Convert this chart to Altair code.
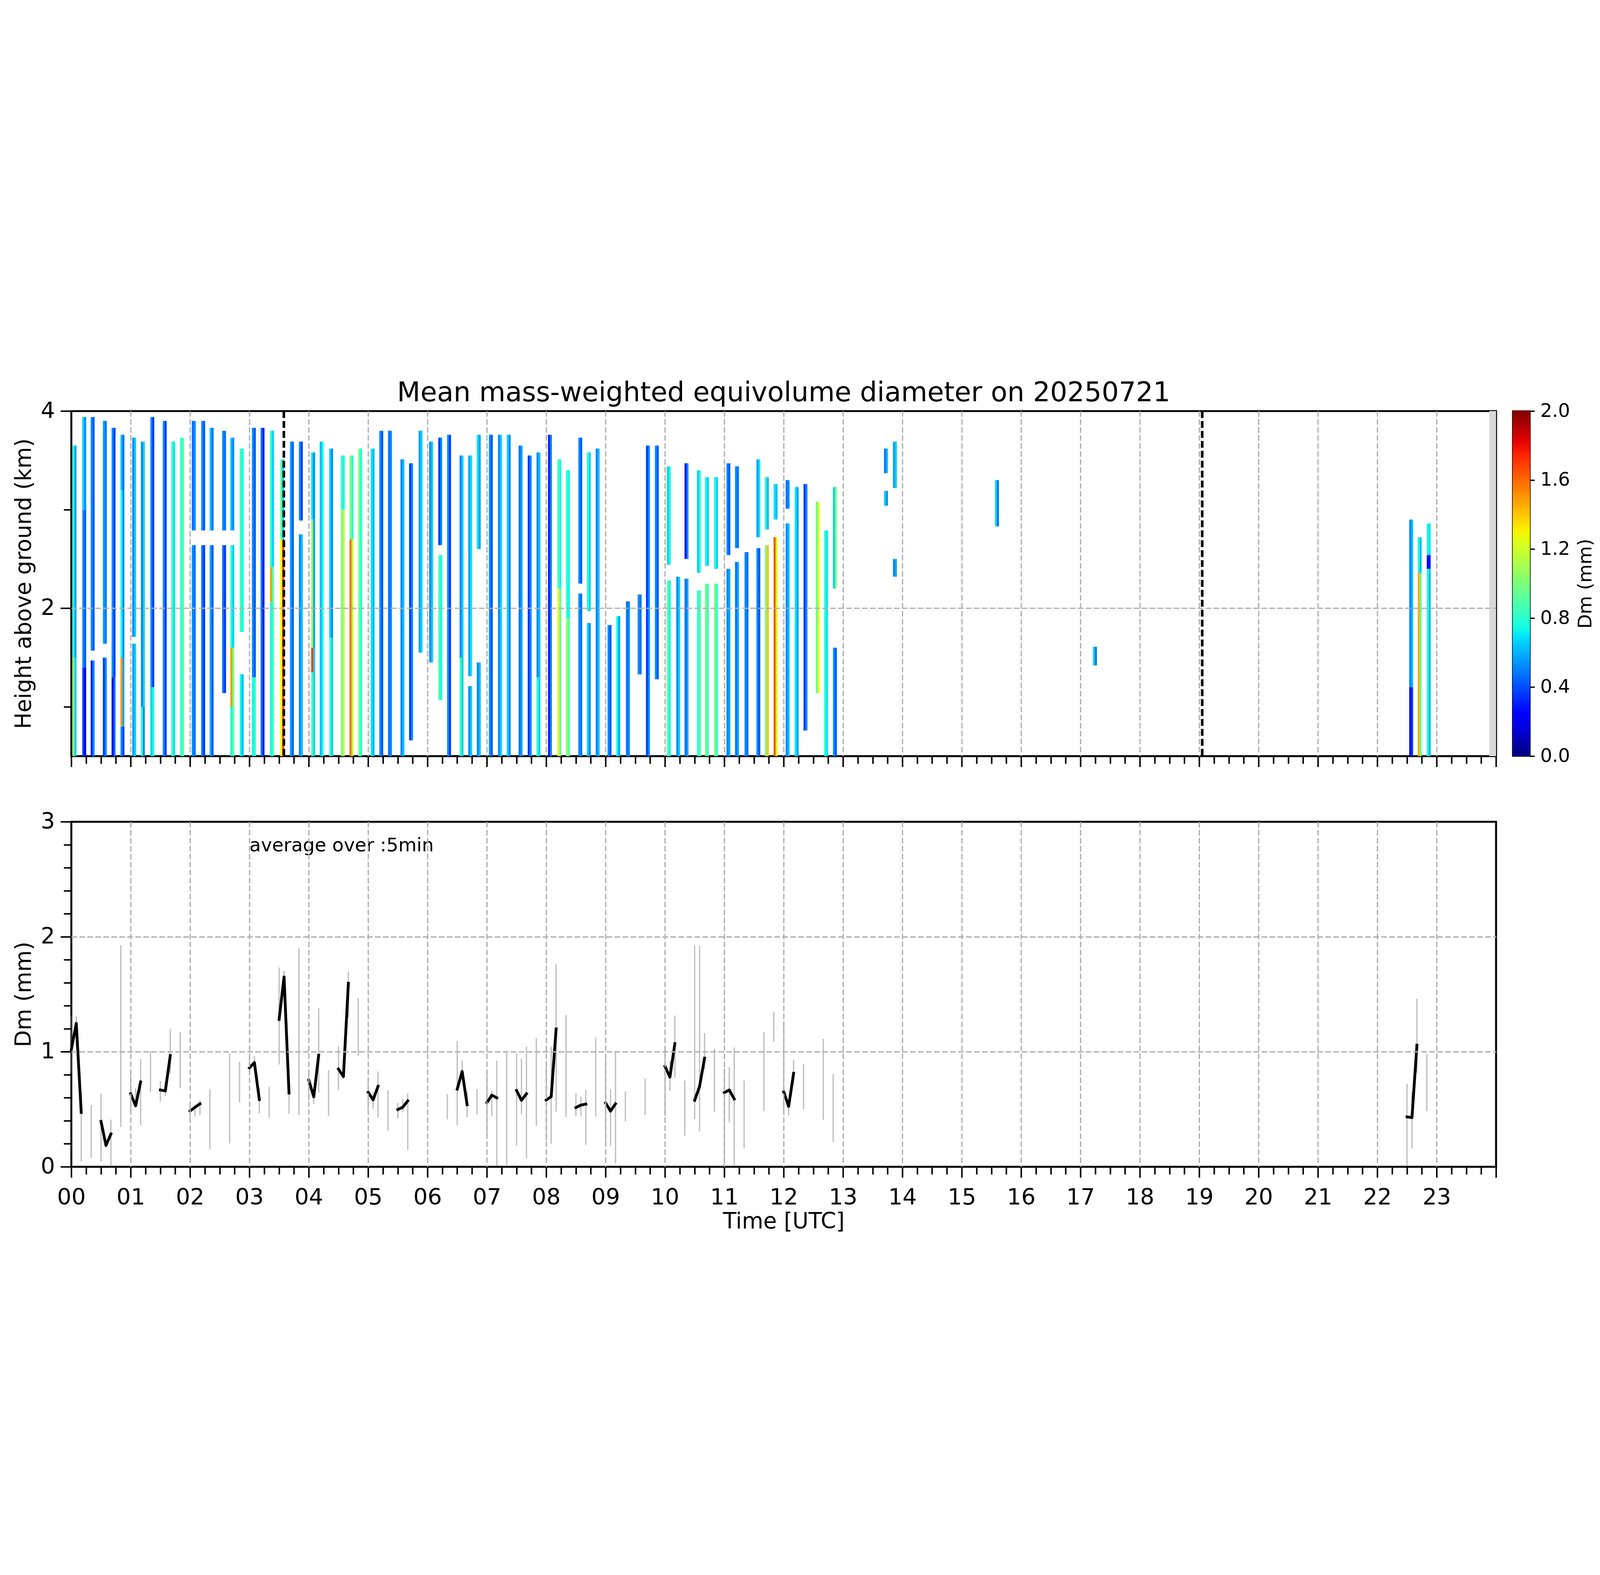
import numpy as np
import pandas as pd
import altair as alt

# ---------------- top panel: radar Dm profiles (stripe start hour, segments) ----------------
stripe_t = [0.021, 0.184, 0.326, 0.531, 0.678, 0.828,
            1.025, 1.172, 1.331, 1.54, 1.682, 1.833,
            2.029, 2.188, 2.33, 2.54, 2.678, 2.837,
            3.042, 3.188, 3.347, 3.52, 3.682, 3.833,
            4.04, 4.184, 4.343, 4.54, 4.686, 4.833,
            5.042, 5.188, 5.335, 5.544, 5.69, 5.85,
            6.028, 6.181, 6.33, 6.54, 6.686, 6.83,
            7.034, 7.187, 7.335, 7.535, 7.688, 7.836,
            8.03, 8.187, 8.333, 8.54, 8.684, 8.833,
            9.033, 9.18, 9.343, 9.54, 9.68, 9.83,
            10.033, 10.19, 10.33, 10.54, 10.674, 10.826,
            11.035, 11.18, 11.34, 11.54, 11.684, 11.83,
            12.033, 12.186, 12.334, 12.54, 12.68, 12.83,
            13.69, 13.84, 15.56, 17.21,
            22.537, 22.68, 22.833]

# (bottom km, top km, Dm left half, Dm right half)
stripe_segs = [
    [(0.5, 1.5, 1.0, 0.66), (1.5, 3.65, 0.78, 0.57)],
    [(0.5, 1.4, 0.36, 0.2), (1.4, 3.0, 0.52, 0.42), (3.0, 3.94, 0.66, 0.52)],
    [(0.5, 1.47, 0.3, 0.52), (1.57, 3.94, 0.52, 0.42)],
    [(0.5, 1.5, 0.36, 0.52), (1.64, 3.9, 0.57, 0.47)],
    [(0.5, 1.3, 0.2, 0.47), (1.3, 3.83, 0.52, 0.36)],
    [(0.5, 0.8, 0.52, 0.36), (0.8, 1.5, 1.5, 0.57), (1.5, 3.2, 0.74, 0.52), (3.2, 3.76, 0.62, 0.47)],
    [(0.5, 1.64, 0.57, 0.66), (1.71, 3.73, 0.52, 0.66)],
    [(0.5, 1.0, 0.78, 0.52), (1.0, 3.69, 0.52, 0.66)],
    [(0.5, 1.2, 0.66, 0.78), (1.2, 3.94, 0.52, 0.36)],
    [(0.5, 3.9, 0.52, 0.36)],
    [(0.5, 3.69, 0.85, 0.7)],
    [(0.5, 3.73, 0.8, 0.9)],
    [(0.5, 2.64, 0.52, 0.47), (2.79, 3.9, 0.47, 0.52)],
    [(0.5, 2.64, 0.47, 0.36), (2.79, 3.9, 0.52, 0.42)],
    [(0.5, 2.64, 0.57, 0.42), (2.79, 3.83, 0.62, 0.47)],
    [(1.14, 2.64, 0.47, 0.36), (2.79, 3.8, 0.52, 0.47)],
    [(0.5, 1.0, 0.74, 0.9), (1.0, 1.6, 1.5, 1.0), (1.6, 2.64, 0.8, 0.66), (2.79, 3.73, 0.62, 0.52)],
    [(0.5, 1.33, 0.74, 0.62), (1.76, 3.62, 0.85, 0.74)],
    [(0.5, 1.3, 0.74, 0.8), (1.3, 3.83, 0.52, 0.42)],
    [(0.5, 3.83, 0.47, 0.3)],
    [(0.5, 2.06, 0.74, 0.85), (2.06, 2.42, 1.5, 0.9), (2.42, 3.8, 0.78, 0.66)],
    [(0.5, 2.7, 1.3, 1.7), (2.7, 3.51, 0.9, 0.66)],
    [(0.5, 3.69, 0.57, 0.42)],
    [(0.5, 2.75, 0.52, 0.62), (2.89, 3.69, 0.52, 0.36)],
    [(0.5, 1.35, 0.9, 0.66), (1.35, 1.6, 1.7, 0.66), (1.6, 2.9, 1.1, 0.57), (2.9, 3.58, 0.7, 0.52)],
    [(0.5, 3.69, 0.62, 0.78)],
    [(0.5, 1.7, 0.85, 0.66), (1.7, 3.62, 0.66, 0.52)],
    [(0.5, 3.0, 1.0, 1.15), (3.0, 3.55, 0.8, 0.74)],
    [(0.5, 2.7, 1.6, 1.2), (2.7, 3.55, 1.0, 0.78)],
    [(0.5, 3.62, 1.0, 0.78)],
    [(0.5, 3.62, 0.7, 0.62)],
    [(0.5, 3.8, 0.52, 0.42)],
    [(0.5, 3.8, 0.47, 0.52)],
    [(0.5, 3.51, 0.52, 0.62)],
    [(0.66, 3.47, 0.36, 0.52)],
    [(1.55, 3.8, 0.57, 0.66)],
    [(1.45, 3.69, 0.52, 0.66)],
    [(1.07, 2.54, 0.9, 0.74), (2.64, 3.73, 0.36, 0.52)],
    [(0.5, 3.76, 0.52, 0.36)],
    [(0.5, 1.5, 0.85, 0.66), (1.5, 3.55, 0.52, 0.66)],
    [(0.5, 1.21, 0.52, 0.66), (1.31, 3.55, 0.57, 0.7)],
    [(0.5, 1.45, 0.52, 0.62), (2.6, 3.76, 0.7, 0.57)],
    [(0.5, 3.76, 0.52, 0.42)],
    [(0.5, 3.76, 0.52, 0.66)],
    [(0.5, 3.76, 0.66, 0.52)],
    [(0.5, 3.65, 0.47, 0.57)],
    [(0.5, 3.55, 0.36, 0.52)],
    [(0.5, 1.3, 0.8, 0.66), (1.3, 3.58, 0.52, 0.62)],
    [(0.5, 3.76, 0.3, 0.52)],
    [(0.5, 2.2, 1.3, 0.95), (2.2, 3.51, 0.85, 0.74)],
    [(0.5, 1.9, 1.05, 0.9), (1.9, 3.4, 0.8, 0.74)],
    [(0.5, 2.15, 0.52, 0.47), (2.25, 3.73, 0.52, 0.42)],
    [(0.5, 1.85, 0.66, 0.52), (1.97, 3.58, 0.8, 0.66)],
    [(0.5, 3.62, 0.52, 0.62)],
    [(0.5, 1.83, 0.52, 0.42)],
    [(0.5, 1.92, 0.74, 0.57)],
    [(0.5, 2.07, 0.47, 0.52)],
    [(1.33, 2.14, 0.52, 0.47)],
    [(0.5, 3.65, 0.36, 0.52)],
    [(1.28, 3.65, 0.52, 0.42)],
    [(0.5, 2.28, 0.9, 0.74), (2.44, 3.44, 0.66, 0.78)],
    [(0.5, 2.32, 0.52, 0.66)],
    [(0.5, 2.3, 0.47, 0.57), (2.5, 3.47, 0.25, 0.52)],
    [(0.5, 2.18, 0.78, 0.9), (2.36, 3.4, 0.66, 0.8)],
    [(0.5, 2.25, 0.95, 0.85), (2.43, 3.33, 0.74, 0.66)],
    [(0.5, 2.25, 1.0, 0.8), (2.4, 3.33, 0.78, 0.66)],
    [(0.5, 2.4, 0.52, 0.57), (2.54, 3.47, 0.52, 0.42)],
    [(0.5, 2.47, 0.47, 0.57), (2.61, 3.44, 0.52, 0.47)],
    [(0.5, 2.57, 0.52, 0.47)],
    [(0.5, 2.61, 0.52, 0.42), (2.72, 3.51, 0.57, 0.7)],
    [(0.5, 2.64, 1.0, 1.4), (2.8, 3.33, 0.74, 0.62)],
    [(0.5, 2.72, 1.65, 1.25), (2.9, 3.26, 0.7, 0.62)],
    [(0.5, 2.86, 0.52, 0.62), (3.01, 3.3, 0.47, 0.52)],
    [(0.5, 3.23, 0.7, 0.57)],
    [(0.76, 3.26, 0.36, 0.52)],
    [(1.14, 3.08, 0.95, 1.3)],
    [(0.5, 2.79, 0.8, 0.7)],
    [(0.5, 1.6, 0.52, 0.42), (2.2, 3.23, 0.66, 1.0)],
    [(3.37, 3.62, 0.47, 0.62), (3.04, 3.19, 0.66, 0.52)],
    [(3.22, 3.69, 0.57, 0.66), (2.32, 2.5, 0.52, 0.57)],
    [(2.83, 3.3, 0.66, 0.47)],
    [(1.42, 1.61, 0.66, 0.47)],
    [(0.5, 1.2, 0.2, 0.36), (1.2, 2.9, 0.52, 0.62)],
    [(0.5, 2.36, 1.45, 0.95), (2.36, 2.72, 0.78, 0.62)],
    [(0.5, 2.4, 0.78, 0.62), (2.4, 2.54, 0.25, 0.3), (2.54, 2.86, 0.74, 0.7)],
]

marker_t = [3.58, 19.05]          # dashed black markers (h)
nodata_t0 = [23.885]              # grey no-data strip (h)
nodata_t1 = [24.0]

# ---------------- bottom panel: 5-min averages (minutes, mean, min, max) ----------------
avg_min = [0, 5, 10, 20, 30, 35, 40, 50, 60, 65, 70, 80, 90, 95, 100, 110,
           120, 125, 130, 140, 160, 170, 180, 185, 190, 200, 210, 215, 220, 230,
           240, 245, 250, 260, 270, 275, 280, 290, 300, 305, 310, 320, 330, 335, 340,
           380, 390, 395, 400, 410, 420, 425, 430, 440, 450, 455, 460, 470,
           480, 485, 490, 500, 510, 515, 520, 530, 540, 545, 550, 560, 580,
           600, 605, 610, 620, 630, 635, 640, 650, 660, 665, 670, 680, 700, 710,
           720, 725, 730, 740, 760, 770, 1350, 1355, 1360, 1370]
avg_mean = [1.02, 1.247, 0.473, None, 0.395, 0.186, 0.286, None, 0.635, 0.53, 0.738, None,
            0.668, 0.66, 0.967, None,
            0.485, 0.518, 0.548, None, None, None, 0.86, 0.907, 0.585, None, 1.281, 1.651, 0.641, None,
            0.754, 0.608, 0.97, None, 0.85, 0.784, 1.596, None, 0.648, 0.582, 0.70, None,
            0.498, 0.518, 0.573,
            None, 0.675, 0.829, 0.54, None, 0.558, 0.623, 0.60, None, 0.663, 0.578, 0.635, None,
            0.582, 0.61, 1.199, None, 0.515, 0.537, 0.545, None, 0.555, 0.484, 0.548, None, None,
            0.873, 0.78, 1.072, None, 0.578, 0.70, 0.945, None, 0.645, 0.668, 0.59, None, None, None,
            0.653, 0.525, 0.813, None, None, None, 0.434, 0.428, 1.057, None]
avg_lo = [0.82, 1.05, 0.046, 0.076, 0.046, 0.17, 0.01, 0.346, 0.488, 0.518, 0.36, 0.648,
          0.566, 0.615, 0.813, 0.683,
          0.395, 0.44, 0.45, 0.154, 0.204, 0.56, 0.795, 0.877, 0.466, 0.424, 0.889, 1.626, 0.461, 0.448,
          0.578, 0.545, 0.645, 0.44, 0.668, 0.765, 1.296, 0.964, 0.48, 0.506, 0.428, 0.313,
          0.42, 0.473, 0.147,
          0.413, 0.36, 0.787, 0.433, 0.454, 0.278, 0.443, 0.01, 0.016, 0.186, 0.455, 0.072, 0.356,
          0.229, 0.2, 0.48, 0.431, 0.44, 0.439, 0.19, 0.436, 0.214, 0.181, 0.03, 0.395, 0.45,
          0.443, 0.66, 0.775, 0.271, 0.416, 0.308, 0.847, 0.478, 0.01, 0.386, 0.01, 0.162, 0.485, 1.087,
          0.466, 0.443, 0.713, 0.5, 0.41, 0.216, 0.01, 0.159, 0.817, 0.485]
avg_hi = [1.31, 1.31, 0.638, 0.536, 0.635, 0.22, 0.41, 1.928, 0.795, 0.683, 0.937, 1.004,
          0.747, 0.735, 1.2, 1.172,
          0.57, 0.53, 0.58, 0.675, 0.988, 0.912, 0.945, 0.963, 0.683, 0.695, 1.733, 1.705, 0.65, 1.903,
          0.817, 0.653, 1.379, 0.837, 1.046, 0.937, 1.696, 1.467, 0.772, 0.645, 0.828, 0.665,
          0.555, 0.585, 0.642,
          0.633, 1.094, 0.922, 0.653, 0.675, 0.802, 0.66, 0.922, 0.99, 0.985, 0.942, 1.045, 1.12,
          0.922, 1.046, 1.76, 1.319, 0.642, 0.611, 0.668, 1.124, 0.982, 0.672, 1.0, 0.657, 0.768,
          1.037, 0.922, 1.316, 0.75, 1.925, 1.922, 1.162, 1.027, 0.859, 0.865, 1.037, 0.75, 1.172, 1.346,
          1.254, 0.548, 0.925, 0.895, 1.112, 0.805, 0.723, 0.653, 1.461, 0.979]

TITLE = "Mean mass-weighted equivolume diameter on 20250721"
NOTE = "average over :5min"

# ---------------- styling constants ----------------
FONT = "DejaVu Sans"
W = 0.066            # stripe duration (h)
PW, PH = 6600, 1598
TICK_F, TITLE_F, SMALL_F = 104, 102, 87
GRID = "#b0b0b0"


def jet(x):
    r = np.interp(x, [0, 0.35, 0.66, 0.89, 1], [0, 0, 1, 1, 0.5])
    g = np.interp(x, [0, 0.125, 0.375, 0.64, 0.91, 1], [0, 0, 1, 1, 0, 0])
    b = np.interp(x, [0, 0.11, 0.34, 0.65, 1], [0.5, 1, 1, 0, 0])
    return "#%02x%02x%02x" % (int(round(r * 255)), int(round(g * 255)), int(round(b * 255)))


stops = np.linspace(0, 1, 33)
cscale = alt.Scale(domain=[float(s * 2) for s in stops], range=[jet(s) for s in stops],
                   interpolate="rgb", clamp=True)

# heat table
rows = []
for t, segs in zip(stripe_t, stripe_segs):
    for (y0, y1, vl, vr) in segs:
        rows.append(dict(x0=t, x1=t + W / 2 + 0.004, y0=y0, y1=y1, v=vl))
        rows.append(dict(x0=t + W / 2, x1=t + W, y0=y0, y1=y1, v=vr))
heat_df = pd.DataFrame(rows)

xs_top = alt.Scale(domain=[0, 24], nice=False, zero=False)
ys_top = alt.Scale(domain=[0.5, 4], nice=False, zero=False)

quarter = [i * 0.25 for i in range(97)]
is_int = "abs(datum.value - round(datum.value)) < 0.001"
inner_hour = is_int + " && datum.value > 0.5 && datum.value < 23.5"
GRID_KW = dict(grid=True, gridColor=GRID, gridWidth=6, gridDash=[26, 11])

x_axis_top = alt.Axis(values=quarter, labels=False, title=None, domain=False, zindex=1,
                      tickColor="black", tickWidth=7,
                      tickSize={"condition": {"test": is_int, "value": 50}, "value": 35},
                      gridOpacity={"condition": {"test": inner_hour, "value": 1}, "value": 0},
                      **GRID_KW)
y_axis_top = alt.Axis(values=[1, 2, 3, 4], title="Height above ground (km)", domain=False, zindex=1,
                      labelExpr="datum.value % 2 === 0 ? format(datum.value, 'd') : ''",
                      labelFontSize=TICK_F, labelPadding=26, labelFlush=False, labelOverlap=False,
                      titleFontSize=TITLE_F, titleFontWeight="normal", titlePadding=25,
                      tickColor="black", tickWidth=7,
                      tickSize={"condition": {"test": "datum.value % 2 === 0", "value": 50}, "value": 35},
                      gridOpacity={"condition": {"test": "datum.value === 2", "value": 1}, "value": 0},
                      **GRID_KW)

heat = alt.Chart(heat_df).mark_rect(strokeWidth=0).encode(
    x=alt.X("x0:Q", scale=xs_top, axis=x_axis_top),
    x2="x1:Q",
    y=alt.Y("y0:Q", scale=ys_top, axis=y_axis_top),
    y2="y1:Q",
    color=alt.Color("v:Q", scale=cscale, legend=None),
)

nodata_df = pd.DataFrame({"a": nodata_t0, "b": nodata_t1, "lo": [0.5], "hi": [4.0]})
nodata = alt.Chart(nodata_df).mark_rect(color="#d9d9d9").encode(
    x="a:Q", x2="b:Q", y="lo:Q", y2="hi:Q")

mark_df = pd.DataFrame({"t": marker_t})
markers = alt.Chart(mark_df).mark_rule(color="black", strokeWidth=12, strokeDash=[32, 14]).encode(
    x="t:Q")

top = alt.layer(heat, nodata, markers).properties(
    width=PW, height=PH,
    title=alt.TitleParams(TITLE, fontSize=125, fontWeight="normal", anchor="middle",
                          frame="group", baseline="alphabetic", offset=-132, font=FONT, color="black"),
)

# colorbar
edges = np.linspace(0, 2, 201)
cb_df = pd.DataFrame({"lo": edges[:-1], "hi": edges[1:] + 0.004, "v": (edges[:-1] + edges[1:]) / 2})
cbar = alt.Chart(cb_df).mark_rect(strokeWidth=0).encode(
    x=alt.X(datum=0, scale=alt.Scale(domain=[0, 1]), axis=None),
    x2=alt.X2(datum=1),
    y=alt.Y("lo:Q", scale=alt.Scale(domain=[0, 2], nice=False, zero=False),
            axis=alt.Axis(orient="right", values=[0, 0.4, 0.8, 1.2, 1.6, 2.0], format=".1f",
                          title="Dm (mm)", titleAngle=270, titleBaseline="top",
                          titleFontSize=SMALL_F, titleFontWeight="normal", titlePadding=30,
                          labelFontSize=SMALL_F, labelPadding=25, labelFlush=False,
                          tickSize=22, tickWidth=6, tickColor="black",
                          domain=False, grid=False)),
    y2="hi:Q",
    color=alt.Color("v:Q", scale=cscale, legend=None),
).properties(width=80, height=PH, view=alt.ViewBackground(stroke="black", strokeWidth=6))

# ---------------- bottom panel ----------------
bdf = pd.DataFrame({"m": avg_min, "mean": avg_mean, "lo": avg_lo, "hi": avg_hi})
bdf["t"] = bdf["m"] / 60.0
bdf["seg"] = (bdf["m"].diff().fillna(99) != 5).cumsum()
bdf["n"] = bdf.groupby("seg")["m"].transform("count")
multi = bdf[bdf["n"] > 1].copy()
single = bdf[bdf["n"] == 1].copy()

xs_b = alt.Scale(domain=[0, 24], nice=False, zero=False)
ys_b = alt.Scale(domain=[0, 3], nice=False, zero=False)
ylab_expr = "abs(datum.value - round(datum.value)) < 0.001 ? format(datum.value, 'd') : ''"

x_axis_b = alt.Axis(values=quarter, title="Time [UTC]", domain=False, zindex=1,
                    labelExpr="(abs(datum.value - round(datum.value)) < 0.001 && datum.value < 23.5) ? "
                              "(datum.value < 10 ? '0' + format(datum.value, 'd') : format(datum.value, 'd')) : ''",
                    labelFontSize=TICK_F, labelPadding=42, labelFlush=False, labelOverlap=False,
                    titleFontSize=TITLE_F, titleFontWeight="normal", titlePadding=8,
                    tickColor="black", tickWidth=7,
                    tickSize={"condition": {"test": is_int, "value": 50}, "value": 35},
                    gridOpacity={"condition": {"test": inner_hour, "value": 1}, "value": 0},
                    **GRID_KW)
y_axis_b = alt.Axis(values=[round(i * 0.2, 1) for i in range(16)], title="Dm (mm)", domain=False,
                    zindex=1, labelExpr=ylab_expr,
                    labelFontSize=TICK_F, labelPadding=26, labelFlush=False, labelOverlap=False,
                    titleFontSize=TITLE_F, titleFontWeight="normal", titlePadding=25,
                    tickColor="black", tickWidth=7,
                    tickSize={"condition": {"test": is_int, "value": 50}, "value": 35},
                    gridOpacity={"condition": {"test": "datum.value > 0.5 && datum.value < 2.5 && " + is_int,
                                               "value": 1}, "value": 0},
                    **GRID_KW)

band = alt.Chart(multi).mark_area(color="#808080", fillOpacity=0.5, stroke="#808080",
                                  strokeOpacity=0.5, strokeWidth=6).encode(
    x=alt.X("t:Q", scale=xs_b, axis=x_axis_b),
    y=alt.Y("lo:Q", scale=ys_b, axis=y_axis_b),
    y2="hi:Q",
    detail="seg:N",
    order="t:Q",
)
iso = alt.Chart(single).mark_rule(color="#808080", opacity=0.5, strokeWidth=6).encode(
    x="t:Q", y="lo:Q", y2="hi:Q")
mean_line = alt.Chart(multi).mark_line(color="black", strokeWidth=13, strokeJoin="round",
                                       strokeCap="square").encode(
    x="t:Q", y="mean:Q", detail="seg:N", order="t:Q")
note = alt.Chart(pd.DataFrame({"tx": [3.0], "ty": [2.79], "s": [NOTE]})).mark_text(
    align="left", baseline="middle", fontSize=SMALL_F, font=FONT, color="black").encode(
    x="tx:Q", y="ty:Q", text="s:N")

bottom = alt.layer(band, iso, mean_line, note).properties(width=PW, height=PH)

upper = alt.hconcat(top, cbar, spacing=66).resolve_scale(y="independent", x="independent")
chart = alt.vconcat(upper, bottom, spacing=189).resolve_scale(
    x="independent", y="independent", color="independent"
).properties(
    padding={"left": 41, "top": 96, "right": 5, "bottom": 5}
).configure(
    font=FONT, background="white"
).configure_view(
    stroke="black", strokeWidth=9
).configure_axis(
    labelColor="black", titleColor="black", labelFont=FONT, titleFont=FONT
)

chart.save("out.html", embed_options={"renderer": "svg", "actions": False})
